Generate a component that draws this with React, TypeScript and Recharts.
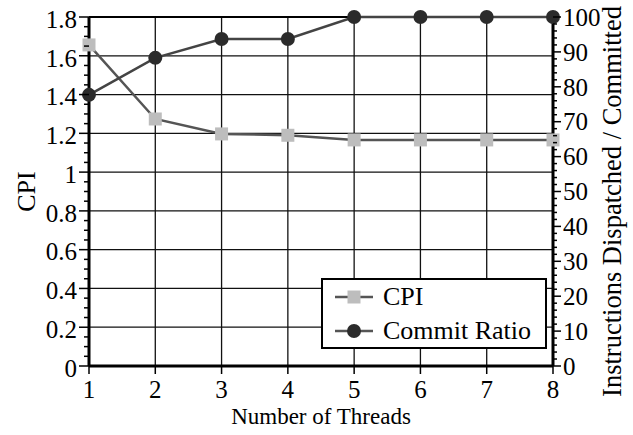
import { LineChart, Line, XAxis, YAxis, CartesianGrid, Legend, ReferenceLine } from 'recharts'

const threads = [1, 2, 3, 4, 5, 6, 7, 8]
const cpi = [1.656, 1.274, 1.197, 1.19, 1.166, 1.166, 1.166, 1.166]
const commitRatio = [77.7, 88.3, 93.7, 93.7, 100, 100, 100, 100]
const cpiMajorTicks = [0, 0.2, 0.4, 0.6, 0.8, 1, 1.2, 1.4, 1.6, 1.8]
const ratioMajorTicks = [0, 10, 20, 30, 40, 50, 60, 70, 80, 90, 100]

const FONT = '"Liberation Serif", "DejaVu Serif", serif'

// major ticks plus evenly spaced minor ticks between them
const subdivide = (major: number[], parts: number) => {
  const out: number[] = []
  major.forEach((v, i) => {
    out.push(v)
    if (i < major.length - 1) {
      const step = (major[i + 1] - v) / parts
      for (let k = 1; k < parts; k++) out.push(+(v + k * step).toFixed(4))
    }
  })
  return out
}
const cpiTicks = subdivide(cpiMajorTicks, 4)
const ratioTicks = subdivide(ratioMajorTicks, 5)

const data = threads.map((t, i) => ({ threads: t, cpi: cpi[i], commit: commitRatio[i] }))

const isMajor = (v: number, list: number[]) => list.some((m) => Math.abs(m - v) < 1e-6)

const LeftTick = ({ x, y, payload }: any) => {
  const major = isMajor(payload.value, cpiMajorTicks)
  return (
    <g>
      <line x1={x} x2={x - (major ? 10 : 5)} y1={y} y2={y} stroke="#000" strokeWidth={1.5} />
      {major && (
        <text x={x - 12} y={y + 2} dy="0.35em" textAnchor="end" fontSize={25} fontFamily={FONT} fill="#000">
          {String(Math.round(payload.value * 10) / 10)}
        </text>
      )}
    </g>
  )
}

const RightTick = ({ x, y, payload }: any) => {
  const major = isMajor(payload.value, ratioMajorTicks)
  return (
    <g>
      <line x1={x} x2={x + (major ? 8 : 4)} y1={y} y2={y} stroke="#000" strokeWidth={1.5} />
      {major && (
        <text x={x + 10} y={y} dy="0.35em" textAnchor="start" fontSize={25} fontFamily={FONT} fill="#000">
          {payload.value}
        </text>
      )}
    </g>
  )
}

const CpiDot = (props: any) => {
  const { cx, cy, index } = props
  return <rect key={`cpi-${index}`} x={cx - 6.5} y={cy - 6.5} width={13} height={13} fill="#bdbdbd" />
}

const legendMarker: Record<string, (cx: number, cy: number) => any> = {
  cpi: (cx, cy) => <rect x={cx - 6.5} y={cy - 6.5} width={13} height={13} fill="#bdbdbd" />,
  commit: (cx, cy) => <circle cx={cx} cy={cy} r={7} fill="#2b2b2b" />,
}

const renderLegend = ({ payload }: any) => (
  <div style={{ boxSizing: 'border-box', width: 226, height: 71, border: '2px solid #000', background: '#fff', paddingLeft: 12 }}>
    {(payload || []).map((p: any) => (
      <div key={p.dataKey} style={{ display: 'flex', alignItems: 'center', height: 34 }}>
        <svg width={40} height={20} style={{ display: 'block' }}>
          <line x1={0} x2={38} y1={10} y2={10} stroke="#555" strokeWidth={2.5} />
          {legendMarker[p.dataKey](19, 10)}
        </svg>
        <span style={{ marginLeft: 8, fontSize: 26, fontFamily: FONT, color: '#000', lineHeight: '34px' }}>{p.value}</span>
      </div>
    ))}
  </div>
)

export default function App() {
  return (
    <div style={{ position: 'absolute', left: 0, top: 0, width: 633, height: 435, background: '#fff' }}>
      <LineChart width={633} height={435} data={data} margin={{ top: 17, right: 0, left: 0, bottom: 0 }}>
        <CartesianGrid yAxisId="left" stroke="#111" strokeWidth={1.3} horizontalValues={cpiMajorTicks} />
        <XAxis
          dataKey="threads"
          type="number"
          domain={[1, 8]}
          ticks={threads}
          interval={0}
          height={69}
          tickSize={8}
          tickMargin={6}
          axisLine={{ stroke: '#000', strokeWidth: 3 }}
          tickLine={{ stroke: '#000', strokeWidth: 1.5 }}
          tick={{ fill: '#000', fontSize: 25, fontFamily: FONT }}
          label={{ value: 'Number of Threads', position: 'insideBottom', offset: 11, fill: '#000', fontSize: 23, fontFamily: FONT }}
        />
        <YAxis
          yAxisId="left"
          domain={[0, 1.8]}
          ticks={cpiTicks}
          interval={0}
          width={89}
          tickSize={0}
          tickMargin={0}
          tickLine={false}
          axisLine={{ stroke: '#000', strokeWidth: 3 }}
          tick={<LeftTick />}
          label={{ value: 'CPI', angle: -90, position: 'insideLeft', offset: 26, fill: '#000', fontSize: 26, fontFamily: FONT, style: { textAnchor: 'middle' } }}
        />
        <YAxis
          yAxisId="right"
          orientation="right"
          domain={[0, 100]}
          ticks={ratioTicks}
          interval={0}
          width={80}
          tickSize={0}
          tickMargin={0}
          tickLine={false}
          axisLine={{ stroke: '#000', strokeWidth: 3 }}
          tick={<RightTick />}
          label={{ value: 'Instructions Dispatched / Committed', angle: -90, position: 'insideRight', offset: 21, dy: 10, fill: '#000', fontSize: 26.5, fontFamily: FONT, style: { textAnchor: 'middle' } }}
        />
        <ReferenceLine yAxisId="left" y={1.8} stroke="#000" strokeWidth={2} />
        <Legend
          layout="vertical"
          align="center"
          verticalAlign="middle"
          content={renderLegend}
          wrapperStyle={{ left: 321, top: 278, width: 226, height: 71 }}
        />
        <Line
          yAxisId="left"
          dataKey="cpi"
          name="CPI"
          stroke="#555"
          strokeWidth={2.5}
          dot={CpiDot}
          activeDot={false}
          isAnimationActive={false}
        />
        <Line
          yAxisId="right"
          dataKey="commit"
          name="Commit Ratio"
          stroke="#444"
          strokeWidth={2.5}
          dot={{ r: 7, fill: '#2b2b2b', stroke: 'none' }}
          activeDot={false}
          isAnimationActive={false}
        />
      </LineChart>
    </div>
  )
}
